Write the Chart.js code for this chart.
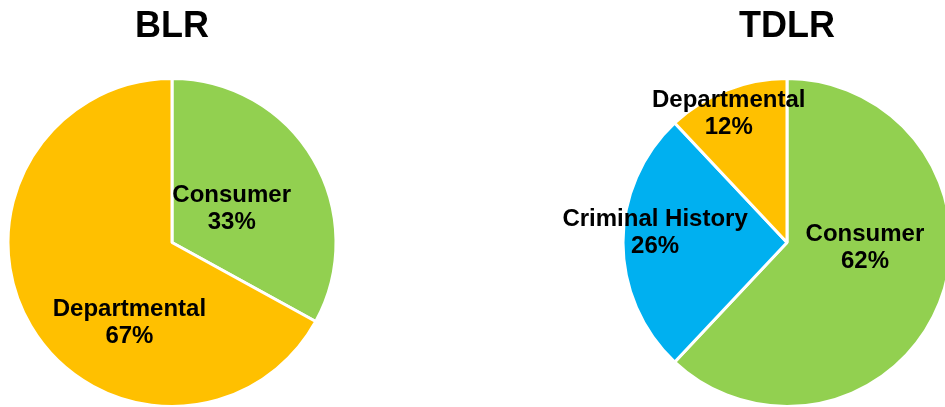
<!DOCTYPE html>
<html>
<head>
<meta charset="utf-8">
<script src="https://cdn.jsdelivr.net/npm/chart.js@4"></script>
<style>
  html, body { margin: 0; padding: 0; width: 945px; height: 407px; overflow: hidden; background: #fff; }
  .box { position: absolute; top: 0; height: 407px; }
  #b1 { left: 0; width: 344px; }
  #b2 { left: 472px; width: 630px; }
</style>
</head>
<body>
<div class="box" id="b1"><canvas id="c1"></canvas></div>
<div class="box" id="b2"><canvas id="c2"></canvas></div>
<script>
// ---- data ----
const blrTitle = 'BLR';
const blrLabels = ['Consumer', 'Departmental'];
const blrValues = [33, 67];

const tdlrTitle = 'TDLR';
const tdlrLabels = ['Consumer', 'Criminal History', 'Departmental'];
const tdlrValues = [62, 26, 12];

// ---- styles ----
const GREEN = '#92D050', GOLD = '#FFC000', BLUE = '#00B0F0';
const blrColors = [GREEN, GOLD];
const tdlrColors = [GREEN, BLUE, GOLD];
// label placement: angle shift (deg) from slice middle, and fraction of radius
const blrLabelShift = [0, -31];
const blrLabelFrac = [0.423, 0.546];
const tdlrLabelShift = [-18.6, 4.8, -2.6];
const tdlrLabelFrac = [0.476, 0.807, 0.867];

const FONT = '"Liberation Sans", Arial, sans-serif';

const sliceLabels = {
  id: 'sliceLabels',
  afterDatasetsDraw(chart, args, opts) {
    const ctx = chart.ctx;
    const meta = chart.getDatasetMeta(0);
    const ds = chart.data.datasets[0];
    ctx.save();
    ctx.font = 'bold 24px ' + FONT;
    ctx.fillStyle = '#000';
    ctx.textAlign = 'center';
    ctx.textBaseline = 'middle';
    meta.data.forEach((arc, i) => {
      const p = arc.getProps(['x', 'y', 'startAngle', 'endAngle', 'outerRadius'], true);
      const mid = (p.startAngle + p.endAngle) / 2 + opts.shift[i] * Math.PI / 180;
      const r = p.outerRadius * opts.frac[i];
      const cx = p.x + Math.cos(mid) * r;
      const cy = p.y + Math.sin(mid) * r + 1.5;
      ctx.fillText(chart.data.labels[i], cx, cy - 13.5);
      ctx.fillText(ds.data[i] + '%', cx, cy + 13.5);
    });
    ctx.restore();
  }
};

function makePie(id, title, labels, values, colors, shift, frac) {
  return new Chart(document.getElementById(id), {
    type: 'pie',
    data: {
      labels: labels,
      datasets: [{
        data: values,
        backgroundColor: colors,
        borderColor: '#ffffff',
        borderWidth: 3,
        radius: 164
      }]
    },
    options: {
      responsive: true,
      maintainAspectRatio: false,
      animation: false,
      layout: { padding: 0 },
      plugins: {
        legend: { display: false },
        tooltip: { enabled: false },
        title: {
          display: true,
          text: title,
          color: '#000',
          font: { family: FONT, size: 36, weight: 'bold', lineHeight: 1.2 },
          padding: { top: 5, bottom: 29.8 }
        },
        sliceLabels: { shift: shift, frac: frac }
      }
    },
    plugins: [sliceLabels]
  });
}

makePie('c1', blrTitle, blrLabels, blrValues, blrColors, blrLabelShift, blrLabelFrac);
makePie('c2', tdlrTitle, tdlrLabels, tdlrValues, tdlrColors, tdlrLabelShift, tdlrLabelFrac);
</script>
</body>
</html>
